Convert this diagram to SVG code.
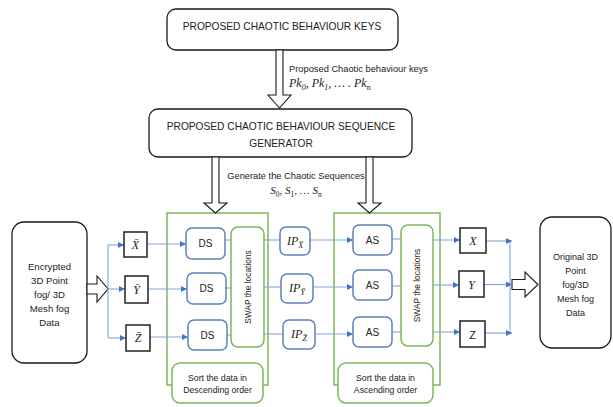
<svg xmlns="http://www.w3.org/2000/svg" width="613" height="407" viewBox="0 0 613 407">
<defs>
<style>
.blk{fill:#fff;stroke:#1a1a1a;stroke-width:1.3}
.hol{fill:#fff;stroke:#1a1a1a;stroke-width:1.1;stroke-linejoin:miter}
.grn{fill:none;stroke:#7DB65A;stroke-width:1.5}
.grnf{fill:#fff;stroke:#7DB65A;stroke-width:1.5}
.blu{fill:#fff;stroke:#5B82BA;stroke-width:1.5}
.sq{fill:#fff;stroke:#222;stroke-width:1.5}
.ln{fill:none;stroke:#7FA6D8;stroke-width:1.1}
.t{font-family:"Liberation Sans",Arial,sans-serif;fill:#222;text-anchor:middle}
.m{font-family:"Liberation Serif","DejaVu Serif",serif;font-style:italic;fill:#222}
</style>
<marker id="ah" viewBox="0 0 10 10" refX="10" refY="5" markerWidth="6" markerHeight="6" orient="auto" markerUnits="userSpaceOnUse">
<path d="M0,0 L10,5 L0,10 z" fill="#4472C4"/>
</marker>
</defs>

<g id="keys">
<rect class="blk" x="167" y="9" width="231" height="41" rx="9"/>
<text class="t" x="282" y="30" font-size="10.2">PROPOSED CHAOTIC BEHAVIOUR KEYS</text>
</g>

<g id="generator">
<rect class="blk" x="149" y="109" width="263" height="48" rx="9"/>
<text class="t" x="281" y="130" font-size="10.2">PROPOSED CHAOTIC BEHAVIOUR SEQUENCE</text>
<text class="t" x="281" y="147" font-size="10.2">GENERATOR</text>
</g>

<g id="encrypted">
<rect class="blk" x="12" y="222" width="75" height="141" rx="12"/>
<text class="t" font-size="9.6"><tspan x="49.5" y="270">Encrypted</tspan><tspan x="49.5" y="284">3D Point</tspan><tspan x="49.5" y="298">fog/ 3D</tspan><tspan x="49.5" y="312">Mesh fog</tspan><tspan x="49.5" y="326">Data</tspan></text>
</g>

<g id="original">
<rect class="blk" x="540" y="217" width="71" height="131" rx="12"/>
<text class="t" font-size="9"><tspan x="575.5" y="260">Original 3D</tspan><tspan x="575.5" y="274">Point</tspan><tspan x="575.5" y="288">fog/3D</tspan><tspan x="575.5" y="302">Mesh fog</tspan><tspan x="575.5" y="316">Data</tspan></text>
</g>

<g id="desc-group">
<rect class="grn" x="167" y="213" width="101" height="172"/>
</g>
<g id="asc-group">
<rect class="grn" x="334" y="213" width="106" height="172"/>
</g>

<g id="connectors">
<!-- hollow arrows -->
<polygon class="hol" points="276,50 283,50 283,95 291,95 279.5,108 268,95 276,95"/>
<polygon class="hol" points="212,157 219,157 219,203 227,203 215.5,213 204,203 212,203"/>
<polygon class="hol" points="366,157 373,157 373,203 381,203 369.5,213 358,203 366,203"/>
<polygon class="hol" points="87,284 97,284 97,276 108,289 97,302 97,294 87,294"/>
<polygon class="hol" points="512,279.5 525,279.5 525,272 538,284.5 525,297 525,289.5 512,289.5"/>
<!-- left distribution -->
<path class="ln" d="M108,245 V338"/>
<path class="ln" d="M108,245 H124" marker-end="url(#ah)"/>
<path class="ln" d="M108,289 H125" marker-end="url(#ah)"/>
<path class="ln" d="M108,338 H126" marker-end="url(#ah)"/>
<!-- to DS -->
<path class="ln" d="M147,244 H186" marker-end="url(#ah)"/>
<path class="ln" d="M148,289 H187" marker-end="url(#ah)"/>
<path class="ln" d="M150,337 H188" marker-end="url(#ah)"/>
<!-- DS to swap -->
<path class="ln" d="M225,240 H231"/>
<path class="ln" d="M226,288 H231"/>
<path class="ln" d="M227,335 H231"/>
<!-- swap to IP -->
<path class="ln" d="M264,240 H280"/>
<path class="ln" d="M264,287 H281"/>
<path class="ln" d="M264,334 H283"/>
<!-- IP to AS -->
<path class="ln" d="M310,240 H353" marker-end="url(#ah)"/>
<path class="ln" d="M313,287 H353" marker-end="url(#ah)"/>
<path class="ln" d="M315,334 H353" marker-end="url(#ah)"/>
<!-- AS to swap -->
<path class="ln" d="M392,239 H401"/>
<path class="ln" d="M392,286 H401"/>
<path class="ln" d="M392,332 H401"/>
<!-- swap to XYZ -->
<path class="ln" d="M433,240 H460" marker-end="url(#ah)"/>
<path class="ln" d="M433,285 H459" marker-end="url(#ah)"/>
<path class="ln" d="M433,332 H460" marker-end="url(#ah)"/>
<!-- merge -->
<path class="ln" d="M510,241 V333"/>
<path class="ln" d="M486,241 H512" marker-end="url(#ah)"/>
<path class="ln" d="M484,284.5 H512" marker-end="url(#ah)"/>
<path class="ln" d="M485,333 H512" marker-end="url(#ah)"/>
</g>

<g id="labels">
<text x="289" y="72" font-family="Liberation Sans,Arial,sans-serif" font-size="9.3" fill="#222">Proposed Chaotic behaviour keys</text>
<text class="m" x="289" y="87" font-size="12">Pk<tspan font-size="8" dy="2.5">0</tspan><tspan dy="-2.5">, Pk</tspan><tspan font-size="8" dy="2.5">1</tspan><tspan dy="-2.5">, … . Pk</tspan><tspan font-size="8" dy="2.5" font-style="normal">n</tspan></text>
<text x="296" y="179" font-family="Liberation Sans,Arial,sans-serif" font-size="9.3" fill="#222" text-anchor="middle">Generate the Chaotic Sequences</text>
<text class="m" x="296" y="194" font-size="11" text-anchor="middle">S<tspan font-size="7.5" dy="2.5" font-style="normal">0</tspan><tspan dy="-2.5">, S</tspan><tspan font-size="7.5" dy="2.5" font-style="normal">1</tspan><tspan dy="-2.5">, … S</tspan><tspan font-size="7.5" dy="2.5" font-style="normal">n</tspan></text>
</g>

<g id="xbar"><rect class="sq" x="124" y="232" width="23" height="25"/><text class="m" x="135.5" y="249" font-size="12" text-anchor="middle">X̄</text></g>
<g id="ybar"><rect class="sq" x="125" y="276" width="23" height="27"/><text class="m" x="136.5" y="294" font-size="12" text-anchor="middle">Ȳ</text></g>
<g id="zbar"><rect class="sq" x="126" y="325" width="24" height="26"/><text class="m" x="138" y="342" font-size="12" text-anchor="middle">Z̄</text></g>

<g id="ds1"><rect class="blu" x="186" y="228" width="39" height="31" rx="6"/><text class="t" x="205.5" y="247" font-size="10">DS</text></g>
<g id="ds2"><rect class="blu" x="187" y="273" width="39" height="31" rx="6"/><text class="t" x="206.5" y="292" font-size="10">DS</text></g>
<g id="ds3"><rect class="blu" x="188" y="320" width="39" height="30" rx="6"/><text class="t" x="207.5" y="339" font-size="10">DS</text></g>

<g id="swap1"><rect class="grnf" x="231" y="227" width="33" height="120" rx="7"/><text class="t" font-size="8.4" transform="translate(250.5,287) rotate(-90)">SWAP the locations</text></g>

<g id="ipx"><rect class="blu" x="280" y="227" width="30" height="28" rx="6"/><text class="m" x="295" y="245" font-size="12" text-anchor="middle">IP<tspan font-size="8" dy="2.5">X̄</tspan></text></g>
<g id="ipy"><rect class="blu" x="281" y="274" width="32" height="29" rx="6"/><text class="m" x="297" y="292" font-size="12" text-anchor="middle">IP<tspan font-size="8" dy="2.5">Ȳ</tspan></text></g>
<g id="ipz"><rect class="blu" x="283" y="320" width="32" height="29" rx="6"/><text class="m" x="299" y="338" font-size="12" text-anchor="middle">IP<tspan font-size="8" dy="2.5">Z̄</tspan></text></g>

<g id="as1"><rect class="blu" x="353" y="225" width="39" height="30" rx="6"/><text class="t" x="372.5" y="244" font-size="10">AS</text></g>
<g id="as2"><rect class="blu" x="353" y="270" width="39" height="30" rx="6"/><text class="t" x="372.5" y="289" font-size="10">AS</text></g>
<g id="as3"><rect class="blu" x="353" y="317" width="39" height="30" rx="6"/><text class="t" x="372.5" y="336" font-size="10">AS</text></g>

<g id="swap2"><rect class="grnf" x="401" y="225" width="32" height="121" rx="7"/><text class="t" font-size="8.4" transform="translate(420,285.5) rotate(-90)">SWAP the locations</text></g>

<g id="xout"><rect class="sq" x="460" y="228" width="26" height="25"/><text class="m" x="473" y="245" font-size="12" text-anchor="middle">X</text></g>
<g id="yout"><rect class="sq" x="459" y="271" width="25" height="26"/><text class="m" x="471.5" y="288.5" font-size="12" text-anchor="middle">Y</text></g>
<g id="zout"><rect class="sq" x="460" y="321" width="25" height="26"/><text x="472.5" y="338.5" font-size="11" text-anchor="middle" font-family="Liberation Sans,Arial,sans-serif" fill="#222">Z</text></g>

<g id="sort-desc"><rect class="grnf" x="172" y="363" width="91" height="40" rx="8"/><text class="t" font-size="8.7"><tspan x="217.5" y="381">Sort the data in</tspan><tspan x="217.5" y="393">Descending order</tspan></text></g>
<g id="sort-asc"><rect class="grnf" x="338" y="363" width="95" height="40" rx="8"/><text class="t" font-size="8.7"><tspan x="385.5" y="381">Sort the data in</tspan><tspan x="385.5" y="393">Ascending order</tspan></text></g>
</svg>
